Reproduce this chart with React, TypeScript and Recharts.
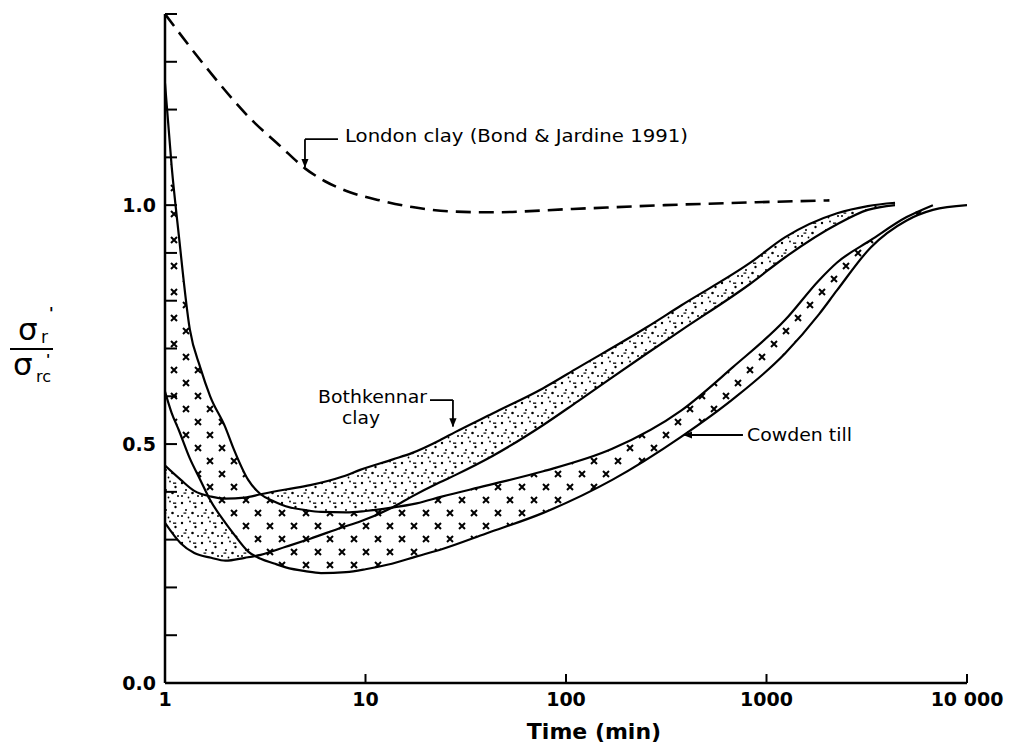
import React from 'react';
import {
  ComposedChart,
  Line,
  Area,
  XAxis,
  YAxis,
  ReferenceLine,
  ReferenceDot,
  Customized,
} from 'recharts';

// ---------- axis ticks ----------
const xTicks = [1, 10, 100, 1000, 10000];
const xTickLabels = ['1', '10', '100', '1000', '10 000'];
const yTicks = [0, 0.1, 0.2, 0.3, 0.4, 0.5, 0.6, 0.7, 0.8, 0.9, 1.0, 1.1, 1.2, 1.3, 1.4];
const yLabelled = [0, 0.5, 1.0];

// ---------- London clay (dashed) ----------
const londonT = [1, 1.6, 2.71, 3.75, 4.99, 6.28, 8.36, 11.8, 17.1, 26.4, 41.9, 108, 311, 888, 2060];
const londonY = [1.4, 1.289, 1.178, 1.124, 1.077, 1.05, 1.027, 1.01, 0.996, 0.987, 0.985, 0.992, 1.0, 1.006, 1.01];

// ---------- Bothkennar clay band ----------
const bathT = [1, 1.2, 1.4, 1.7, 2, 2.5, 3, 4, 5.3, 7.7, 9.4, 13.7, 17, 23.5, 28, 43, 77, 115, 254, 375, 827, 1240, 2250, 3200, 4375];
const bathUpper = [0.455, 0.425, 0.402, 0.39, 0.386, 0.388, 0.395, 0.405, 0.414, 0.432, 0.446, 0.468, 0.481, 0.508, 0.525, 0.564, 0.617, 0.66, 0.745, 0.79, 0.879, 0.933, 0.983, 0.998, 1.005];
const bathLower = [0.335, 0.292, 0.272, 0.262, 0.256, 0.262, 0.268, 0.285, 0.302, 0.326, 0.338, 0.368, 0.39, 0.42, 0.435, 0.475, 0.54, 0.59, 0.69, 0.738, 0.835, 0.891, 0.96, 0.99, 1.0];

// ---------- Cowden till band ----------
const cowT = [1, 1.08, 1.17, 1.33, 1.5, 1.68, 2, 2.2, 2.6, 3, 3.5, 4, 5, 6, 8, 10, 13, 18, 24, 40, 77, 170, 375, 680, 1240, 1830, 2250, 3320, 5000, 6760, 10000];
const cowUpper = [1.255, 1.08, 0.94, 0.74, 0.66, 0.6, 0.535, 0.49, 0.425, 0.395, 0.38, 0.37, 0.362, 0.358, 0.357, 0.36, 0.366, 0.376, 0.39, 0.413, 0.443, 0.49, 0.57, 0.661, 0.76, 0.843, 0.88, 0.927, 0.975, 1.0, 1.0];
const cowLower = [0.61, 0.565, 0.53, 0.47, 0.425, 0.383, 0.335, 0.312, 0.275, 0.26, 0.25, 0.242, 0.234, 0.23, 0.232, 0.238, 0.248, 0.265, 0.28, 0.313, 0.356, 0.425, 0.515, 0.594, 0.69, 0.772, 0.822, 0.912, 0.968, 0.99, 1.0];
const cowUpperEnd = 6760;

// ---------- annotations (data coordinates) ----------
const labelTexts = ['London clay (Bond & Jardine 1991)', 'Bothkennar', 'clay', 'Cowden till'];
const labelT = [7.9, 5.8, 7.64, 799];
const labelV = [1.144, 0.598, 0.554, 0.519];
const labelLen = [343, 109, 38, 105];

const leaderFromT = [7.29, 4.99, 20.97, 27.3, 763];
const leaderFromV = [1.138, 1.138, 0.592, 0.592, 0.519];
const leaderToT = [4.99, 4.99, 27.3, 27.3, 388];
const leaderToV = [1.138, 1.08, 0.592, 0.537, 0.519];
const leaderArrow = [false, true, false, true, true];

// ---------- tables built from the arrays ----------
const londonData = londonT.map((t, i) => ({ t, v: londonY[i] }));
const bathBand = bathT.map((t, i) => ({ t, range: [bathLower[i], bathUpper[i]] }));
const bathUpperLine = bathT.map((t, i) => ({ t, v: bathUpper[i] }));
const bathLowerLine = bathT.map((t, i) => ({ t, v: bathLower[i] }));
const cowBand = cowT.map((t, i) => ({ t, range: [cowLower[i], cowUpper[i]] }));
const cowUpperLine = cowT.map((t, i) => ({ t, v: cowUpper[i] })).filter((d) => d.t <= cowUpperEnd);
const cowLowerLine = cowT.map((t, i) => ({ t, v: cowLower[i] }));

const FONT = '"DejaVu Sans", sans-serif';

const XTick = (props: any) => {
  const { x, y, payload } = props;
  let idx = 0;
  let best = Infinity;
  xTicks.forEach((v, i) => {
    const d = Math.abs(Math.log10(v) - Math.log10(payload.value));
    if (d < best) {
      best = d;
      idx = i;
    }
  });
  return (
    <g>
      <line x1={x} y1={y} x2={x} y2={y - 9} stroke="#000" strokeWidth={2} />
      <text
        x={x}
        y={y + 16}
        textAnchor="middle"
        dominantBaseline="central"
        fontFamily={FONT}
        fontWeight="bold"
        fontSize={19}
        fill="#000"
      >
        {xTickLabels[idx]}
      </text>
    </g>
  );
};

const YTick = (props: any) => {
  const { x, y, payload } = props;
  const v = payload.value;
  const show = yLabelled.some((a) => Math.abs(a - v) < 1e-6);
  return (
    <g>
      <line x1={x} y1={y} x2={x + 12} y2={y} stroke="#000" strokeWidth={2} />
      {show && (
        <text
          x={x - 9}
          y={y}
          textAnchor="end"
          dominantBaseline="central"
          fontFamily={FONT}
          fontWeight="bold"
          fontSize={19}
          fill="#000"
        >
          {v.toFixed(1)}
        </text>
      )}
    </g>
  );
};

const AxisTitles = () => (
  <g fontFamily={FONT} fill="#000">
    {/* y-axis fraction sigma'_r / sigma'_rc */}
    <text x={18} y={340} fontSize={31}>σ</text>
    <text x={41} y={343} fontSize={17}>r</text>
    <text x={49} y={319} fontSize={15} fontWeight="bold">'</text>
    <line x1={10} y1={349} x2={53} y2={349} stroke="#000" strokeWidth={2} />
    <text x={13} y={375} fontSize={31}>σ</text>
    <text x={36} y={382} fontSize={16}>rc</text>
    <text x={46} y={364} fontSize={14} fontWeight="bold">'</text>
    {/* x-axis title */}
    <text x={594} y={731} textAnchor="middle" dominantBaseline="central" fontSize={22} fontWeight="bold">
      Time (min)
    </text>
  </g>
);

const makeLabel = (text: string, len: number) => (p: any) => (
  <text
    x={p.cx}
    y={p.cy}
    dominantBaseline="central"
    fontFamily={FONT}
    fontSize={17}
    fill="#000"
    textLength={len}
    lengthAdjust="spacingAndGlyphs"
  >
    {text}
  </text>
);

const makeLeader = (arrow: boolean) => (p: any) => (
  <line
    x1={p.x1}
    y1={p.y1}
    x2={p.x2}
    y2={p.y2}
    stroke="#000"
    strokeWidth={1.8}
    markerEnd={arrow ? 'url(#arrowHead)' : undefined}
  />
);

export default function App() {
  return (
    <div style={{ position: 'absolute', left: 0, top: 0, width: 1013, height: 748, background: '#fff' }}>
      <ComposedChart width={1013} height={748} margin={{ top: 14, right: 46, bottom: 25, left: 105 }}>
        <defs>
          <pattern id="bathDots" patternUnits="userSpaceOnUse" width="20" height="20">
            <circle cx="2" cy="3" r="1.2" fill="#000" />
            <circle cx="10" cy="1.5" r="0.9" fill="#000" />
            <circle cx="15.5" cy="7" r="1.2" fill="#000" />
            <circle cx="6" cy="10" r="1" fill="#000" />
            <circle cx="12.5" cy="13" r="1.3" fill="#000" />
            <circle cx="2" cy="16" r="1" fill="#000" />
            <circle cx="8.5" cy="17.5" r="0.9" fill="#000" />
            <circle cx="18" cy="16" r="1" fill="#000" />
            <rect x="13" y="2.5" width="3.2" height="1.3" fill="#000" />
            <rect x="3.5" y="12.5" width="2.8" height="1.2" fill="#000" />
          </pattern>
          <pattern id="cowX" patternUnits="userSpaceOnUse" width="24" height="26">
            <rect x="0" y="0" width="24" height="26" fill="#fff" />
            <path d="M3,3 L9,9 M9,3 L3,9" stroke="#000" strokeWidth="2" />
            <path d="M15,16 L21,22 M21,16 L15,22" stroke="#000" strokeWidth="2" />
          </pattern>
          <marker
            id="arrowHead"
            viewBox="0 0 10 10"
            refX="9"
            refY="5"
            markerWidth="9"
            markerHeight="9"
            markerUnits="userSpaceOnUse"
            orient="auto"
          >
            <path d="M0,1 L10,5 L0,9 z" fill="#000" />
          </marker>
        </defs>

        <XAxis
          type="number"
          dataKey="t"
          scale="log"
          domain={[1, 10000]}
          ticks={xTicks}
          interval={0}
          allowDataOverflow
          height={40}
          tickSize={0}
          tickMargin={0}
          tickLine={false}
          tick={<XTick />}
          axisLine={{ stroke: '#000', strokeWidth: 2.5 }}
        />
        <YAxis
          type="number"
          domain={[0, 1.4]}
          ticks={yTicks}
          interval={0}
          allowDataOverflow
          width={60}
          tickSize={0}
          tickMargin={0}
          tickLine={false}
          tick={<YTick />}
          axisLine={{ stroke: '#000', strokeWidth: 2.5 }}
        />

        <Area
          data={bathBand}
          dataKey="range"
          type="monotone"
          fill="url(#bathDots)"
          fillOpacity={1}
          stroke="none"
          isAnimationActive={false}
        />
        <Area
          data={cowBand}
          dataKey="range"
          type="monotone"
          fill="url(#cowX)"
          fillOpacity={1}
          stroke="none"
          isAnimationActive={false}
        />

        <Line data={bathUpperLine} dataKey="v" type="monotone" stroke="#000" strokeWidth={2.2} dot={false} isAnimationActive={false} />
        <Line data={bathLowerLine} dataKey="v" type="monotone" stroke="#000" strokeWidth={2.2} dot={false} isAnimationActive={false} />
        <Line data={cowUpperLine} dataKey="v" type="monotone" stroke="#000" strokeWidth={2.2} dot={false} isAnimationActive={false} />
        <Line data={cowLowerLine} dataKey="v" type="monotone" stroke="#000" strokeWidth={2.2} dot={false} isAnimationActive={false} />
        <Line
          data={londonData}
          dataKey="v"
          type="monotone"
          stroke="#000"
          strokeWidth={2.6}
          strokeDasharray="15 8"
          dot={false}
          isAnimationActive={false}
        />

        {leaderFromT.map((t, i) => (
          <ReferenceLine
            key={'ld' + i}
            segment={[
              { x: t, y: leaderFromV[i] },
              { x: leaderToT[i], y: leaderToV[i] },
            ]}
            shape={makeLeader(leaderArrow[i])}
          />
        ))}
        {labelTexts.map((txt, i) => (
          <ReferenceDot key={'lb' + i} x={labelT[i]} y={labelV[i]} r={0} shape={makeLabel(txt, labelLen[i])} />
        ))}

        <Customized component={AxisTitles} />
      </ComposedChart>
    </div>
  );
}
